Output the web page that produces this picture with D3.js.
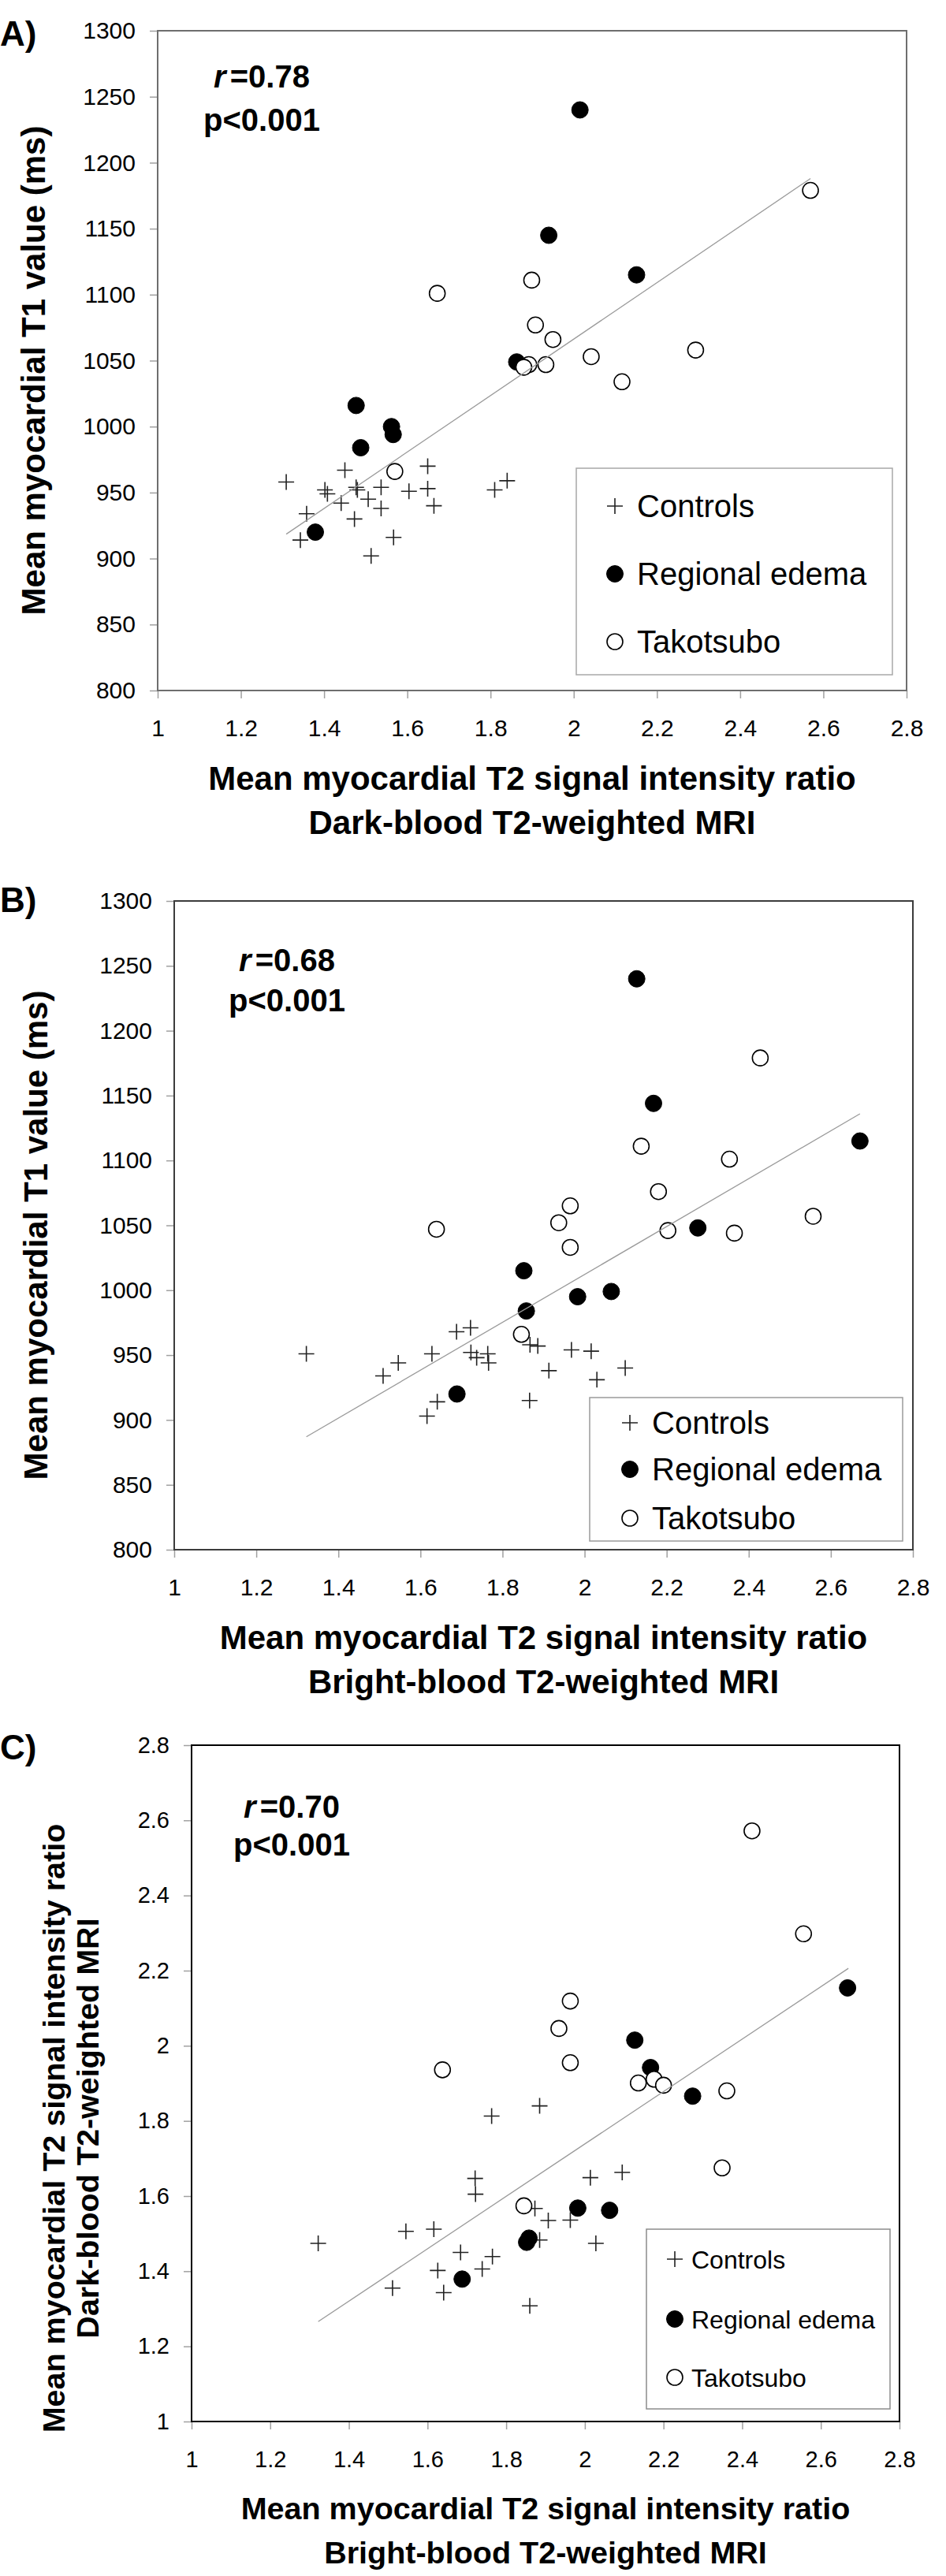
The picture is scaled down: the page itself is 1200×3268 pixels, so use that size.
<!DOCTYPE html>
<html>
  <head>
    <title>T1 vs T2 scatter</title>
    <style>
      body { margin: 0; background: #fff; }
      svg { display: block; font-family: "Liberation Sans", Arial, sans-serif; }
    </style>
  </head>
  <body>
    <svg class='chart'></svg>
    <script type="text/javascript" src="https://d3js.org/d3.v7.min.js"></script>
    <script type="text/javascript">

var width = 1200
var height = 3268

// tick values
var xTicks = [1, 1.2, 1.4, 1.6, 1.8, 2, 2.2, 2.4, 2.6, 2.8]
var t1Ticks = [800, 850, 900, 950, 1000, 1050, 1100, 1150, 1200, 1250, 1300]
var ratioTicks = [1, 1.2, 1.4, 1.6, 1.8, 2, 2.2, 2.4, 2.6, 2.8]
var groups = ["Controls", "Regional edema", "Takotsubo"]

// A) dark-blood T2 ratio vs T1 (ms)
var controlsA = [[1.309, 958], [1.450, 967], [1.358, 934], [1.343, 914], [1.402, 952], [1.408, 949],
    [1.441, 942], [1.477, 954], [1.480, 952], [1.473, 930], [1.506, 945], [1.537, 954], [1.537, 938],
    [1.513, 902], [1.567, 916], [1.604, 951], [1.649, 970], [1.649, 953], [1.664, 940], [1.810, 952], [1.840, 959]]
var edemaA = [[2.015, 1240], [1.940, 1145], [2.151, 1115], [1.863, 1049], [1.477, 1016], [1.562, 1000],
    [1.566, 994], [1.488, 984], [1.379, 920]]
var takoA = [[2.569, 1179], [1.899, 1111], [1.672, 1101], [1.908, 1077], [1.950, 1066], [2.293, 1058],
    [2.042, 1053], [1.933, 1047], [1.892, 1047], [1.880, 1045], [2.116, 1034], [1.570, 966]]
var fitA = [[1.309, 918.5], [2.569, 1188]]

// B) bright-blood T2 ratio vs T1 (ms)
var controlsB = [[1.322, 951], [1.509, 934], [1.546, 944], [1.628, 951], [1.616, 903], [1.641, 914],
    [1.688, 968], [1.722, 971], [1.723, 952], [1.737, 948], [1.764, 951], [1.766, 944], [1.867, 958],
    [1.886, 957], [1.866, 915], [1.913, 938], [1.968, 954], [2.016, 953], [2.030, 931], [2.099, 940]]
var edemaB = [[2.127, 1240], [2.168, 1144], [2.671, 1115], [2.276, 1048], [1.852, 1015], [2.065, 999],
    [1.983, 995], [1.858, 984], [1.689, 920]]
var takoB = [[2.428, 1179], [2.138, 1111], [2.353, 1101], [2.180, 1076], [1.965, 1065], [2.557, 1057],
    [1.937, 1052], [1.639, 1047], [2.203, 1046], [2.365, 1044], [1.965, 1033], [1.846, 966]]
var fitB = [[1.322, 887], [2.671, 1136]]

// C) bright-blood vs dark-blood T2 ratio
var controlsC = [[1.322, 1.474], [1.545, 1.506], [1.616, 1.512], [1.721, 1.647], [1.722, 1.605], [1.763, 1.813],
    [1.885, 1.840], [1.684, 1.450], [1.765, 1.439], [1.739, 1.406], [1.626, 1.402], [1.511, 1.355],
    [1.641, 1.343], [1.860, 1.308], [1.873, 1.567], [1.885, 1.483], [1.907, 1.535], [2.014, 1.649],
    [2.095, 1.663], [1.963, 1.536], [2.028, 1.474]]
var edemaC = [[2.127, 2.015], [2.167, 1.942], [2.668, 2.154], [2.274, 1.866], [1.852, 1.477], [2.063, 1.562],
    [1.982, 1.568], [1.858, 1.488], [1.688, 1.379]]
var takoC = [[2.425, 2.572], [2.136, 1.901], [2.349, 1.675], [2.176, 1.911], [1.963, 1.955], [2.556, 2.298],
    [1.934, 2.046], [1.638, 1.936], [2.200, 1.895], [2.361, 1.880], [1.963, 2.119], [1.845, 1.574]]
var fitC = [[1.322, 1.266], [2.670, 2.206]]

var svg = d3.select(".chart")
    .attr("width", width)
    .attr("height", height)

var panels = [
    {label: "A)", labelY: 58, left: 200, right: 1150, top: 39, bottom: 876,
     yDomain: [800, 1300], yTicks: t1Ticks, frame: "#6e6e6e", legendStroke: "#a8a8a8",
     controls: controlsA, edema: edemaA, tako: takoA, fit: fitA,
     r: "=0.78", statX: 332, statY: [111, 166], tickFont: 30, titleFont: 42,
     xTitle: ["Mean myocardial T2 signal intensity ratio", "Dark-blood T2-weighted MRI"], xTitleY: [1002, 1058],
     yTitle: ["Mean myocardial T1 value (ms)"], yTitleX: [57], yTitleY: 470,
     legend: {x0: 731, x1: 1132, y0: 594, y1: 856, rows: [642, 728, 814], mx: 780, tx: 808, font: 40}},
    {label: "B)", labelY: 1157, left: 221, right: 1158, top: 1143, bottom: 1966,
     yDomain: [800, 1300], yTicks: t1Ticks, frame: "#3c3c3c", legendStroke: "#9a9a9a",
     controls: controlsB, edema: edemaB, tako: takoB, fit: fitB,
     r: "=0.68", statX: 364, statY: [1232, 1283], tickFont: 30, titleFont: 42,
     xTitle: ["Mean myocardial T2 signal intensity ratio", "Bright-blood T2-weighted MRI"], xTitleY: [2092, 2148],
     yTitle: ["Mean myocardial T1 value (ms)"], yTitleX: [60], yTitleY: 1567,
     legend: {x0: 748, x1: 1145, y0: 1773, y1: 1955, rows: [1805, 1864, 1926], mx: 799, tx: 827, font: 40}},
    {label: "C)", labelY: 2232, left: 243, right: 1141, top: 2214, bottom: 3072,
     yDomain: [1, 2.8], yTicks: ratioTicks, frame: "#000", legendStroke: "#8c8c8c",
     controls: controlsC, edema: edemaC, tako: takoC, fit: fitC,
     r: "=0.70", statX: 370, statY: [2306, 2354], tickFont: 29, titleFont: 39.5,
     xTitle: ["Mean myocardial T2 signal intensity ratio", "Bright-blood T2-weighted MRI"], xTitleY: [3196, 3252],
     yTitle: ["Mean myocardial T2 signal intensity ratio", "Dark-blood T2-weighted MRI"], yTitleX: [82, 125], yTitleY: 2700,
     legend: {x0: 820, x1: 1129, y0: 2828, y1: 3056, rows: [2866, 2942, 3016], mx: 856, tx: 877, font: 32}}
]

panels.forEach(drawPanel)

function drawPanel(p) {
    var g = svg.append("g")

    var x = d3.scaleLinear().domain([1, 2.8]).range([p.left, p.right])
    var y = d3.scaleLinear().domain(p.yDomain).range([p.bottom, p.top])

    var fmt = function(d) { return String(+d.toFixed(1)) }

    var xAxis = g.append("g")
        .attr("transform", "translate(0," + p.bottom + ")")
        .call(d3.axisBottom(x).tickValues(xTicks).tickFormat(fmt).tickSize(10).tickSizeOuter(0).tickPadding(27))
    var yAxis = g.append("g")
        .attr("transform", "translate(" + p.left + ",0)")
        .call(d3.axisLeft(y).tickValues(p.yTicks).tickFormat(fmt).tickSize(10).tickSizeOuter(0).tickPadding(18))

    ;[xAxis, yAxis].forEach(function(a) {
        a.select(".domain").remove()
        a.selectAll(".tick line").attr("stroke", "#a0a0a0").attr("stroke-width", 1.5)
        a.selectAll(".tick text")
            .attr("fill", "#000")
            .style("font-size", p.tickFont + "px")
            .style("font-family", '"Liberation Sans", Arial, sans-serif')
    })

    // plot frame
    g.append("rect")
        .attr("x", p.left)
        .attr("y", p.top)
        .attr("width", p.right - p.left)
        .attr("height", p.bottom - p.top)
        .attr("fill", "none")
        .attr("stroke", p.frame)
        .attr("stroke-width", 2)

    // panel letter
    g.append("text")
        .attr("x", 0)
        .attr("y", p.labelY)
        .style("font-size", "44px")
        .style("font-weight", "bold")
        .text(p.label)

    // statistics
    var rt = g.append("text")
        .attr("x", p.statX)
        .attr("y", p.statY[0])
        .attr("text-anchor", "middle")
        .style("font-size", "40px")
        .style("font-weight", "bold")
    rt.append("tspan").style("font-style", "italic").text("r")
    rt.append("tspan").attr("dx", 5).text(p.r)
    g.append("text")
        .attr("x", p.statX)
        .attr("y", p.statY[1])
        .attr("text-anchor", "middle")
        .style("font-size", "40px")
        .style("font-weight", "bold")
        .text("p<0.001")

    // axis titles
    var cx = (p.left + p.right) / 2
    p.xTitle.forEach(function(t, i) {
        g.append("text")
            .attr("x", cx)
            .attr("y", p.xTitleY[i])
            .attr("text-anchor", "middle")
            .style("font-size", p.titleFont + "px")
            .style("font-weight", "bold")
            .text(t)
    })
    p.yTitle.forEach(function(t, i) {
        g.append("text")
            .attr("transform", "translate(" + p.yTitleX[i] + "," + p.yTitleY + ")rotate(-90)")
            .attr("text-anchor", "middle")
            .style("font-size", p.titleFont + "px")
            .style("font-weight", "bold")
            .text(t)
    })

    // points: controls, then regional edema, then takotsubo on top
    var pts = g.append("g")
    pts.selectAll(".ctrl")
        .data(p.controls)
        .enter().append("path")
        .attr("class", "ctrl")
        .attr("d", function(d) { return crossPath(x(d[0]), y(d[1])) })
        .call(crossStyle)
    pts.selectAll(".edema")
        .data(p.edema)
        .enter().append("circle")
        .attr("class", "edema")
        .attr("cx", function(d) { return x(d[0]) })
        .attr("cy", function(d) { return y(d[1]) })
        .call(filledStyle)
    pts.selectAll(".tako")
        .data(p.tako)
        .enter().append("circle")
        .attr("class", "tako")
        .attr("cx", function(d) { return x(d[0]) })
        .attr("cy", function(d) { return y(d[1]) })
        .call(openStyle)

    // regression line
    g.append("line")
        .attr("x1", x(p.fit[0][0]))
        .attr("y1", y(p.fit[0][1]))
        .attr("x2", x(p.fit[1][0]))
        .attr("y2", y(p.fit[1][1]))
        .attr("stroke", "#9a9a9a")
        .attr("stroke-width", 1.3)

    // legend
    var L = p.legend
    var leg = g.append("g")
    leg.append("rect")
        .attr("x", L.x0)
        .attr("y", L.y0)
        .attr("width", L.x1 - L.x0)
        .attr("height", L.y1 - L.y0)
        .attr("fill", "#fff")
        .attr("stroke", p.legendStroke)
        .attr("stroke-width", 1.5)
    leg.append("path").attr("d", crossPath(L.mx, L.rows[0])).call(crossStyle)
    leg.append("circle").attr("cx", L.mx).attr("cy", L.rows[1]).call(filledStyle)
    leg.append("circle").attr("cx", L.mx).attr("cy", L.rows[2]).call(openStyle)
    leg.selectAll(".lt")
        .data(groups)
        .enter().append("text")
        .attr("class", "lt")
        .attr("x", L.tx)
        .attr("y", function(d, i) { return L.rows[i] })
        .attr("dy", "0.36em")
        .style("font-size", L.font + "px")
        .text(function(d) { return d })
}

function crossPath(cx, cy) {
    var h = 10
    return "M" + (cx - h) + "," + cy + "H" + (cx + h) + "M" + cx + "," + (cy - h) + "V" + (cy + h)
}

function crossStyle(s) {
    s.attr("fill", "none").attr("stroke", "#222").attr("stroke-width", 1.6)
}

function filledStyle(s) {
    s.attr("r", 10.5).attr("fill", "#000").attr("stroke", "#000").attr("stroke-width", 1)
}

function openStyle(s) {
    s.attr("r", 10).attr("fill", "#fff").attr("stroke", "#000").attr("stroke-width", 1.6)
}

    </script>
  </body>
</html>
